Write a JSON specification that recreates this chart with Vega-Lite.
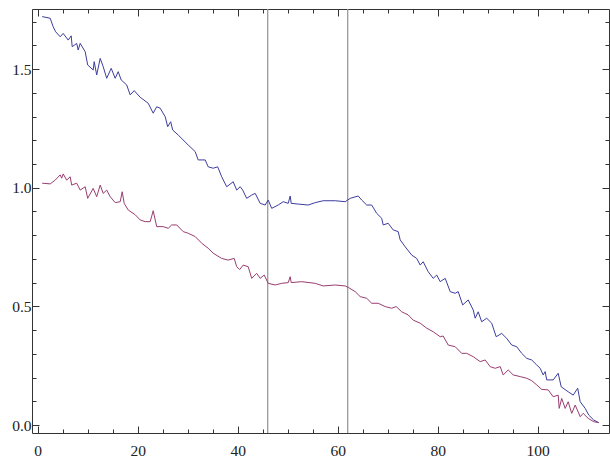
{
  "$schema": "https://vega.github.io/schema/vega-lite/v6.json",
  "autosize": "none",
  "width": 577,
  "height": 424,
  "padding": {"left": 32, "top": 9, "right": 1, "bottom": 25},
  "background": "white",
  "config": {
    "view": {"stroke": null},
    "axis": {
      "grid": false,
      "domainColor": "#333",
      "domainWidth": 1,
      "tickColor": "#333",
      "tickWidth": 1,
      "labelFont": "Liberation Serif",
      "labelFontSize": 15.5,
      "labelColor": "#222",
      "title": null
    }
  },
  "datasets": {
    "blue": [
      {"x":0.9,"y":1.721},{"x":2.5,"y":1.714},{"x":3.1,"y":1.678},{"x":3.6,"y":1.657},{"x":4.5,"y":1.636},{"x":5.1,"y":1.650},{"x":6.1,"y":1.622},{"x":6.7,"y":1.640},{"x":6.9,"y":1.594},{"x":7.8,"y":1.608},{"x":8.1,"y":1.580},{"x":8.5,"y":1.608},{"x":9.5,"y":1.573},{"x":10.0,"y":1.517},{"x":11.1,"y":1.496},{"x":11.3,"y":1.531},{"x":11.8,"y":1.475},{"x":12.5,"y":1.545},{"x":13.1,"y":1.510},{"x":13.8,"y":1.461},{"x":14.7,"y":1.503},{"x":15.5,"y":1.461},{"x":16.1,"y":1.489},{"x":16.7,"y":1.454},{"x":17.8,"y":1.433},{"x":18.5,"y":1.391},{"x":19.3,"y":1.409},{"x":20.5,"y":1.381},{"x":22.1,"y":1.356},{"x":23.1,"y":1.314},{"x":23.8,"y":1.341},{"x":24.5,"y":1.335},{"x":25.5,"y":1.299},{"x":26.0,"y":1.257},{"x":26.6,"y":1.278},{"x":27.0,"y":1.243},{"x":28.1,"y":1.222},{"x":30.1,"y":1.180},{"x":31.5,"y":1.152},{"x":32.1,"y":1.117},{"x":33.5,"y":1.117},{"x":34.1,"y":1.088},{"x":35.1,"y":1.082},{"x":36.0,"y":1.088},{"x":36.8,"y":1.046},{"x":37.8,"y":1.004},{"x":39.1,"y":1.025},{"x":39.8,"y":0.990},{"x":40.5,"y":1.004},{"x":41.0,"y":0.990},{"x":41.8,"y":0.955},{"x":42.8,"y":0.969},{"x":43.5,"y":0.976},{"x":44.5,"y":0.934},{"x":45.5,"y":0.927},{"x":46.1,"y":0.948},{"x":46.8,"y":0.913},{"x":48.1,"y":0.927},{"x":49.1,"y":0.941},{"x":50.1,"y":0.934},{"x":50.5,"y":0.965},{"x":50.7,"y":0.934},{"x":52.1,"y":0.931},{"x":54.1,"y":0.927},{"x":55.5,"y":0.937},{"x":57.1,"y":0.945},{"x":59.5,"y":0.945},{"x":61.5,"y":0.941},{"x":62.5,"y":0.955},{"x":64.1,"y":0.965},{"x":64.8,"y":0.948},{"x":65.8,"y":0.927},{"x":66.8,"y":0.927},{"x":67.8,"y":0.892},{"x":68.8,"y":0.871},{"x":69.1,"y":0.843},{"x":70.1,"y":0.850},{"x":71.1,"y":0.822},{"x":72.1,"y":0.815},{"x":72.5,"y":0.780},{"x":73.5,"y":0.751},{"x":74.8,"y":0.716},{"x":75.8,"y":0.702},{"x":76.5,"y":0.674},{"x":77.1,"y":0.688},{"x":78.1,"y":0.646},{"x":79.1,"y":0.618},{"x":79.8,"y":0.632},{"x":80.5,"y":0.604},{"x":81.5,"y":0.618},{"x":82.5,"y":0.562},{"x":83.5,"y":0.555},{"x":84.1,"y":0.562},{"x":85.0,"y":0.506},{"x":86.1,"y":0.527},{"x":87.1,"y":0.485},{"x":87.5,"y":0.450},{"x":88.1,"y":0.477},{"x":88.8,"y":0.435},{"x":89.8,"y":0.450},{"x":90.8,"y":0.429},{"x":91.7,"y":0.372},{"x":92.8,"y":0.386},{"x":93.8,"y":0.365},{"x":94.8,"y":0.337},{"x":95.8,"y":0.330},{"x":96.8,"y":0.302},{"x":97.8,"y":0.281},{"x":98.8,"y":0.274},{"x":99.8,"y":0.253},{"x":100.5,"y":0.239},{"x":101.1,"y":0.211},{"x":101.5,"y":0.225},{"x":101.8,"y":0.190},{"x":103.1,"y":0.190},{"x":104.1,"y":0.218},{"x":104.7,"y":0.161},{"x":106.1,"y":0.140},{"x":107.1,"y":0.126},{"x":108.0,"y":0.155},{"x":108.5,"y":0.098},{"x":109.5,"y":0.070},{"x":110.2,"y":0.042},{"x":111.2,"y":0.021},{"x":112.2,"y":0.010}
    ],
    "red": [
      {"x":0.9,"y":1.019},{"x":2.5,"y":1.016},{"x":3.5,"y":1.032},{"x":4.5,"y":1.054},{"x":4.8,"y":1.040},{"x":5.1,"y":1.058},{"x":5.8,"y":1.032},{"x":6.5,"y":1.046},{"x":6.8,"y":1.011},{"x":7.8,"y":1.019},{"x":8.5,"y":0.990},{"x":9.5,"y":1.004},{"x":10.0,"y":0.955},{"x":11.1,"y":0.997},{"x":11.8,"y":0.962},{"x":12.5,"y":1.011},{"x":13.1,"y":0.976},{"x":13.8,"y":0.990},{"x":14.5,"y":0.962},{"x":15.5,"y":0.937},{"x":16.5,"y":0.941},{"x":16.9,"y":0.983},{"x":17.3,"y":0.934},{"x":18.1,"y":0.906},{"x":19.5,"y":0.886},{"x":20.5,"y":0.864},{"x":21.5,"y":0.857},{"x":22.5,"y":0.857},{"x":23.1,"y":0.903},{"x":23.8,"y":0.836},{"x":25.1,"y":0.836},{"x":26.1,"y":0.829},{"x":26.8,"y":0.843},{"x":27.8,"y":0.843},{"x":29.1,"y":0.815},{"x":30.1,"y":0.808},{"x":31.5,"y":0.794},{"x":32.8,"y":0.766},{"x":34.1,"y":0.745},{"x":35.1,"y":0.724},{"x":36.8,"y":0.702},{"x":38.1,"y":0.695},{"x":39.3,"y":0.702},{"x":39.8,"y":0.667},{"x":40.4,"y":0.655},{"x":41.1,"y":0.674},{"x":42.1,"y":0.667},{"x":42.8,"y":0.618},{"x":43.8,"y":0.639},{"x":44.5,"y":0.618},{"x":45.3,"y":0.632},{"x":46.1,"y":0.597},{"x":47.5,"y":0.590},{"x":48.8,"y":0.597},{"x":50.1,"y":0.600},{"x":50.5,"y":0.625},{"x":50.7,"y":0.600},{"x":52.8,"y":0.604},{"x":55.5,"y":0.597},{"x":57.1,"y":0.586},{"x":59.5,"y":0.590},{"x":61.5,"y":0.586},{"x":62.1,"y":0.580},{"x":63.5,"y":0.562},{"x":64.5,"y":0.541},{"x":65.8,"y":0.534},{"x":66.8,"y":0.513},{"x":68.1,"y":0.513},{"x":69.5,"y":0.499},{"x":70.8,"y":0.492},{"x":71.7,"y":0.499},{"x":72.8,"y":0.477},{"x":74.1,"y":0.464},{"x":75.1,"y":0.442},{"x":76.5,"y":0.429},{"x":77.8,"y":0.408},{"x":79.1,"y":0.393},{"x":80.5,"y":0.372},{"x":81.1,"y":0.375},{"x":82.1,"y":0.337},{"x":83.5,"y":0.330},{"x":84.8,"y":0.302},{"x":85.8,"y":0.302},{"x":87.1,"y":0.288},{"x":88.5,"y":0.267},{"x":89.5,"y":0.274},{"x":90.5,"y":0.246},{"x":91.5,"y":0.239},{"x":92.5,"y":0.246},{"x":93.1,"y":0.211},{"x":94.1,"y":0.232},{"x":95.1,"y":0.211},{"x":96.5,"y":0.204},{"x":97.8,"y":0.197},{"x":98.8,"y":0.187},{"x":99.8,"y":0.169},{"x":100.8,"y":0.150},{"x":102.1,"y":0.148},{"x":103.1,"y":0.119},{"x":104.1,"y":0.126},{"x":104.3,"y":0.070},{"x":104.8,"y":0.112},{"x":105.5,"y":0.070},{"x":106.1,"y":0.098},{"x":106.8,"y":0.049},{"x":107.5,"y":0.084},{"x":108.5,"y":0.035},{"x":109.1,"y":0.049},{"x":110.1,"y":0.028},{"x":111.2,"y":0.014},{"x":112.2,"y":0.010}
    ],
    "marks": [{"x": 46}, {"x": 62}]
  },
  "resolve": {"axis": {"x": "independent", "y": "independent"}},
  "layer": [
    {
      "data": {"name": "marks"},
      "mark": {"type": "rule", "color": "#9a9a9a", "strokeWidth": 1.3},
      "encoding": {
        "x": {"field": "x", "type": "quantitative", "scale": {"domain": [-1.14, 114.26], "nice": false, "zero": false}, "axis": null}
      }
    },
    {
      "data": {"name": "blue"},
      "mark": {"type": "line", "color": "#3d3d9e", "strokeWidth": 1, "clip": true},
      "encoding": {
        "x": {"field": "x", "type": "quantitative",
          "scale": {"domain": [-1.14, 114.26], "nice": false, "zero": false},
          "axis": {"orient": "bottom",
            "values": [0,5,10,15,20,25,30,35,40,45,50,55,60,65,70,75,80,85,90,95,100,105,110],
            "labelExpr": "datum.value % 20 === 0 ? datum.label : ''",
            "tickSize": {"condition": {"test": "datum.value % 20 === 0", "value": -7}, "value": -4},
            "labelPadding": 17, "labelFlush": false, "labelOverlap": false}},
        "y": {"field": "y", "type": "quantitative",
          "scale": {"domain": [-0.0337, 1.753], "nice": false, "zero": false},
          "axis": {"orient": "left",
            "values": [0,0.1,0.2,0.3,0.4,0.5,0.6,0.7,0.8,0.9,1.0,1.1,1.2,1.3,1.4,1.5,1.6,1.7],
            "format": ".1f",
            "labelExpr": "abs(datum.value*2 - round(datum.value*2)) < 0.001 ? datum.label : ''",
            "tickSize": {"condition": {"test": "abs(datum.value*2 - round(datum.value*2)) < 0.001", "value": -7}, "value": -4},
            "labelPadding": 8, "labelFlush": false, "labelOverlap": false}}
      }
    },
    {
      "data": {"name": "red"},
      "mark": {"type": "line", "color": "#993d70", "strokeWidth": 1, "clip": true},
      "encoding": {
        "x": {"field": "x", "type": "quantitative",
          "scale": {"domain": [-1.14, 114.26], "nice": false, "zero": false},
          "axis": {"orient": "top",
            "values": [0,5,10,15,20,25,30,35,40,45,50,55,60,65,70,75,80,85,90,95,100,105,110],
            "labels": false,
            "tickSize": {"condition": {"test": "datum.value % 20 === 0", "value": -7}, "value": -4}}},
        "y": {"field": "y", "type": "quantitative",
          "scale": {"domain": [-0.0337, 1.753], "nice": false, "zero": false},
          "axis": {"orient": "right",
            "values": [0,0.1,0.2,0.3,0.4,0.5,0.6,0.7,0.8,0.9,1.0,1.1,1.2,1.3,1.4,1.5,1.6,1.7],
            "labels": false,
            "tickSize": {"condition": {"test": "abs(datum.value*2 - round(datum.value*2)) < 0.001", "value": -7}, "value": -4}}}
      }
    }
  ]
}
